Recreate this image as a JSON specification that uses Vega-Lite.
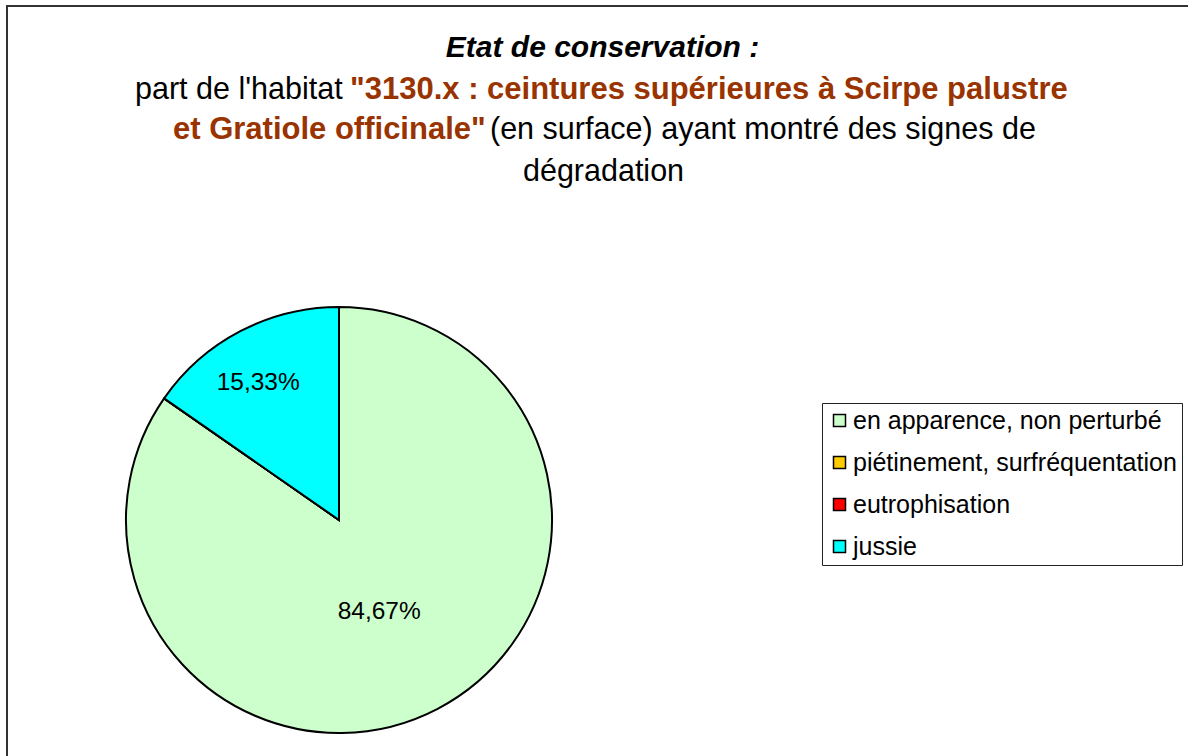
{
  "$schema": "https://vega.github.io/schema/vega-lite/v6.json",
  "width": 1188,
  "height": 756,
  "autosize": {"type": "fit", "contains": "padding"},
  "padding": {"left": 7, "top": 6, "right": -10, "bottom": -10},
  "background": "white",
  "config": {
    "view": {"stroke": "#333333", "strokeWidth": 2},
    "font": "Liberation Sans",
    "text": {"font": "Liberation Sans"}
  },
  "data": {
    "values": [
      {"ord": 1, "cat": "en apparence, non perturbé", "pct": 84.67, "label": "84,67%"},
      {"ord": 2, "cat": "piétinement, surfréquentation", "pct": 0, "label": ""},
      {"ord": 3, "cat": "eutrophisation", "pct": 0, "label": ""},
      {"ord": 4, "cat": "jussie", "pct": 15.33, "label": "15,33%"}
    ]
  },
  "layer": [
    {
      "mark": {"type": "arc", "outerRadius": 213, "stroke": "black", "strokeWidth": 2},
      "encoding": {
        "x": {"value": 332},
        "y": {"value": 514},
        "theta": {"field": "pct", "type": "quantitative", "stack": true},
        "order": {"field": "ord", "type": "quantitative"},
        "color": {
          "field": "cat",
          "type": "nominal",
          "scale": {
            "domain": ["en apparence, non perturbé", "piétinement, surfréquentation", "eutrophisation", "jussie"],
            "range": ["#CCFFCC", "#FFCC00", "#FF0000", "#00FFFF"]
          },
          "legend": {
            "title": null,
            "orient": "none",
            "legendX": 815,
            "legendY": 397,
            "strokeColor": "#222222",
            "fillColor": "white",
            "padding": 5,
            "labelFont": "Liberation Sans",
            "labelFontSize": 25,
            "labelColor": "black",
            "labelLimit": 500,
            "labelOffset": 1,
            "symbolType": "square",
            "symbolSize": 144,
            "symbolStrokeColor": "black",
            "symbolStrokeWidth": 1.5,
            "symbolOpacity": 1,
            "rowPadding": 16
          }
        }
      }
    },
    {
      "mark": {"type": "text", "radius": 104, "dx": -8, "fontSize": 24.5, "font": "Liberation Sans", "color": "black", "baseline": "middle"},
      "encoding": {
        "x": {"value": 332},
        "y": {"value": 514},
        "theta": {"field": "pct", "type": "quantitative", "stack": true},
        "order": {"field": "ord", "type": "quantitative"},
        "detail": {"field": "cat"},
        "text": {"condition": {"test": "datum.ord == 1", "field": "label"}, "value": ""}
      }
    },
    {
      "mark": {"type": "text", "radius": 155, "dx": -9, "fontSize": 24.5, "font": "Liberation Sans", "color": "black", "baseline": "middle"},
      "encoding": {
        "x": {"value": 332},
        "y": {"value": 514},
        "theta": {"field": "pct", "type": "quantitative", "stack": true},
        "order": {"field": "ord", "type": "quantitative"},
        "detail": {"field": "cat"},
        "text": {"condition": {"test": "datum.ord == 4", "field": "label"}, "value": ""}
      }
    },
    {
      "data": {"values": [{}]},
      "mark": {"type": "text", "text": "Etat de conservation :", "fontSize": 30, "fontWeight": "bold", "fontStyle": "italic", "align": "center", "baseline": "alphabetic", "color": "black"},
      "encoding": {"x": {"value": 595.5}, "y": {"value": 51}}
    },
    {
      "data": {"values": [{}]},
      "mark": {"type": "text", "text": "part de l'habitat", "fontSize": 30.5, "align": "left", "baseline": "alphabetic", "color": "black"},
      "encoding": {"x": {"value": 128}, "y": {"value": 93}}
    },
    {
      "data": {"values": [{}]},
      "mark": {"type": "text", "text": "\"3130.x : ceintures supérieures à Scirpe palustre", "fontSize": 31, "fontWeight": "bold", "align": "left", "baseline": "alphabetic", "color": "#993300"},
      "encoding": {"x": {"value": 343}, "y": {"value": 93}}
    },
    {
      "data": {"values": [{}]},
      "mark": {"type": "text", "text": "et Gratiole officinale\"", "fontSize": 31, "fontWeight": "bold", "align": "left", "baseline": "alphabetic", "color": "#993300"},
      "encoding": {"x": {"value": 166}, "y": {"value": 133}}
    },
    {
      "data": {"values": [{}]},
      "mark": {"type": "text", "text": "(en surface) ayant montré des signes de", "fontSize": 30.5, "align": "left", "baseline": "alphabetic", "color": "black"},
      "encoding": {"x": {"value": 483}, "y": {"value": 133}}
    },
    {
      "data": {"values": [{}]},
      "mark": {"type": "text", "text": "dégradation", "fontSize": 30.5, "align": "center", "baseline": "alphabetic", "color": "black"},
      "encoding": {"x": {"value": 596.5}, "y": {"value": 175}}
    }
  ]
}
